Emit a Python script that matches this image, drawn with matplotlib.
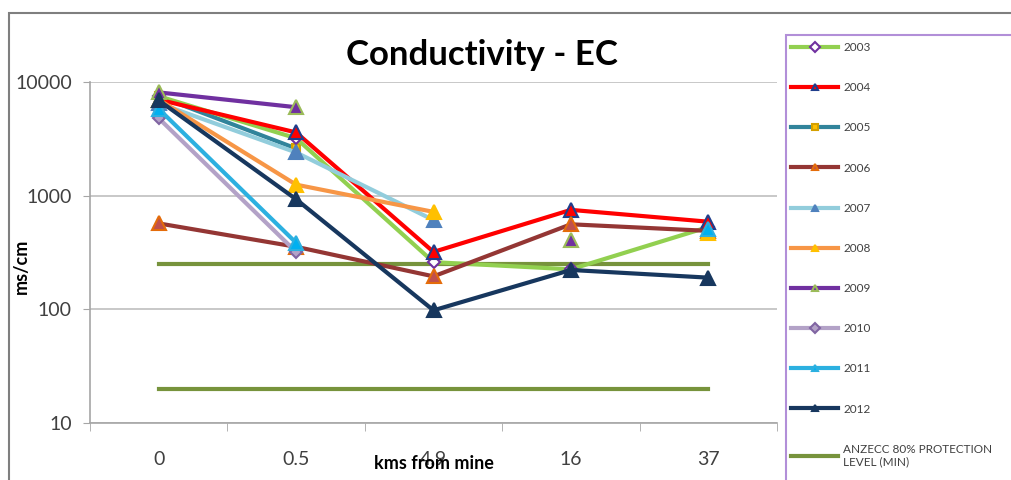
import numpy as np
import matplotlib
matplotlib.use("Agg")
import matplotlib.pyplot as plt
from matplotlib.patches import Rectangle

# distance categories (km from mine)
distances = ["0", "0.5", "4.9", "16", "37"]
nan = np.nan

# conductivity per year (ms/cm)
ec_2003 = [7500, 3200, 260, 225, 530]
ec_2004 = [7000, 3600, 320, 750, 590]
ec_2005 = [7500, 2600, nan, nan, nan]
ec_2006 = [570, 355, 195, 560, 490]
ec_2007 = [6500, 2400, 610, nan, nan]
ec_2008 = [7000, 1250, 720, nan, 470]
ec_2009 = [8100, 6000, nan, 410, nan]
ec_2010 = [4800, 320, nan, nan, nan]
ec_2011 = [5800, 385, nan, nan, 510]
ec_2012 = [6900, 930, 98, 222, 190]
anzecc_min = [20, 20, 20, 20, 20]
anzecc_max = [250, 250, 250, 250, 250]

plt.rcParams['font.family'] = ['Lato', 'DejaVu Sans']

fig = plt.figure(figsize=(10.11, 4.8), dpi=100)
ax = fig.add_axes([90/1011, 1-423/480, (777-90)/1011, (423-82)/480])

x = np.arange(len(distances))

# (data, line colour, marker, marker face, marker edge, label, z)
series = [
    (ec_2003, "#92D050", "D", "white", "#7030A0", "2003", 3),
    (ec_2004, "#FF0000", "^", "#FF0000", "#1F3E8C", "2004", 3),
    (ec_2005, "#31849B", "s", "#FFC000", "#D4A000", "2005", 2.5),
    (ec_2006, "#943634", "^", "#C0504D", "#E46C0A", "2006", 3),
    (ec_2007, "#92CDDC", "^", "#4F81BD", "#4F81BD", "2007", 3),
    (ec_2008, "#F79646", "^", "#FFC000", "#FFC000", "2008", 3),
    (ec_2009, "#7030A0", "^", "#7030A0", "#9BBB59", "2009", 3),
    (ec_2010, "#B3A2C7", "D", "#B3A2C7", "#8064A2", "2010", 3),
    (ec_2011, "#2CB0E0", "^", "#00B0F0", "#2CB0E0", "2011", 3),
    (ec_2012, "#17375E", "^", "#17375E", "#17375E", "2012", 3),
]

for data, lc, mk, mf, me, lab, z in series:
    ms = 10 if mk == "^" else 6
    ax.plot(x, data, color=lc, lw=3, marker=mk, ms=ms, mfc=mf, mec=me,
            mew=1.5, label=lab, zorder=z)

ax.plot(x, anzecc_min, color="#77933C", lw=3,
        label="ANZECC 80% PROTECTION\nLEVEL (MIN)", zorder=2)
ax.plot(x, anzecc_max, color="#77933C", lw=3,
        label="_ANZECC 80% PROTECTION LEVEL (MAX)", zorder=2)

ax.set_yscale("log")
ax.set_ylim(10, 10000)
ax.set_xlim(-0.5, 4.5)
ax.set_yticks([10, 100, 1000, 10000])
ax.set_yticklabels(["10", "100", "1000", "10000"])
ax.yaxis.set_minor_locator(matplotlib.ticker.NullLocator())
ax.grid(axis="y", color="#BFBFBF", lw=1.2)
ax.set_axisbelow(True)

ax.set_xticks(x)
ax.set_xticklabels(distances)
ax.set_xticks(np.arange(-0.5, 4.6, 1), minor=True)
ax.tick_params(axis="x", which="major", length=0, pad=20, labelsize=14,
               labelcolor="#404040")
ax.tick_params(axis="x", which="minor", length=6, color="#A6A6A6")
ax.tick_params(axis="y", length=5, color="#A6A6A6", labelsize=14, pad=8,
               labelcolor="#404040")

for s in ["top", "right"]:
    ax.spines[s].set_visible(False)
for s in ["left", "bottom"]:
    ax.spines[s].set_color("#A6A6A6")
    ax.spines[s].set_linewidth(1.2)

ax.set_title("Conductivity - EC", fontsize=25, fontweight="bold",
             pad=12, x=0.57)
ax.set_ylabel("ms/cm", fontsize=13, fontweight="bold")
ax.yaxis.set_label_coords(-0.088, 0.46)
ax.set_xlabel("kms from mine", fontsize=13, fontweight="bold")
ax.xaxis.set_label_coords(0.5, -0.095)

# outer chart border
fig.patches.append(Rectangle((9/1011, -0.1), 1.2, 1-13/480+0.1,
                             transform=fig.transFigure, fill=False,
                             ec="#7F7F7F", lw=1.5))
# legend frame, runs off the right and bottom edges like the original
fig.patches.append(Rectangle((786/1011, -0.1), 1.0, 1-35/480+0.1,
                             transform=fig.transFigure, fill=False,
                             ec="#B28FD8", lw=1.5))

leg = fig.legend(loc="upper left", bbox_to_anchor=(787/1011, 1-38/480),
                 fontsize=8.5, labelspacing=2.47, handlelength=4.0,
                 handletextpad=0.4, borderpad=0.35, borderaxespad=0,
                 frameon=False)
for h in leg.legend_handles:
    h.set_markersize(5)
for t in leg.get_texts():
    t.set_color("#404040")

fig.savefig("out.png", dpi=100)
